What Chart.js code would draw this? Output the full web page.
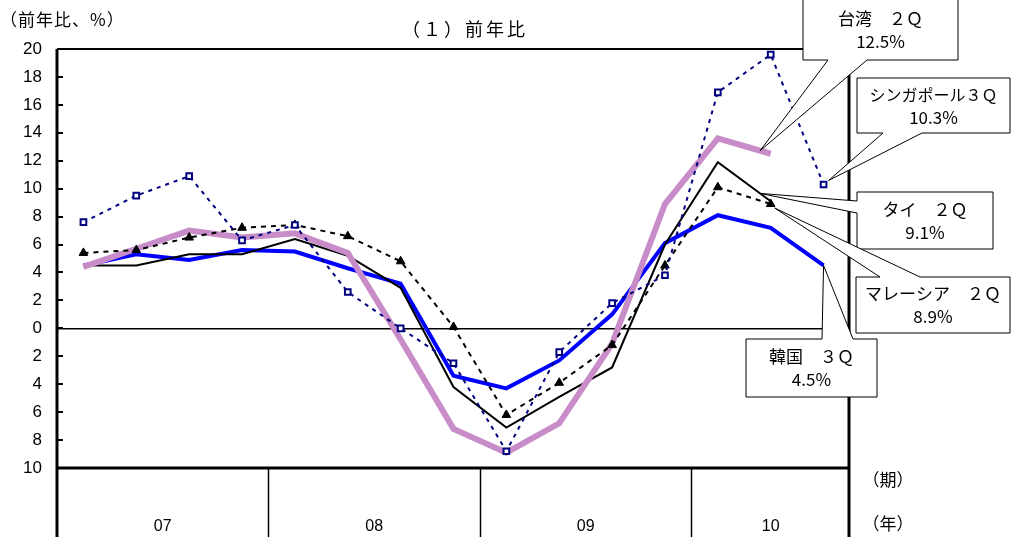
<!DOCTYPE html>
<html><head><meta charset="utf-8">
<script src="https://cdn.jsdelivr.net/npm/chart.js@4"></script>
<style>html,body{margin:0;padding:0;background:#fff}</style>
</head><body>
<canvas id="c" width="1011" height="537" style="display:block;width:1011px;height:537px"></canvas>
<script>
const quarters = ['07Q1','07Q2','07Q3','07Q4','08Q1','08Q2','08Q3','08Q4','09Q1','09Q2','09Q3','09Q4','10Q1','10Q2','10Q3'];
const years = ['07','08','09','10'];
const yearQuarterCounts = [4,4,4,3];
const taiwan    = [4.4,5.7,7.0,6.5,6.8,5.4,-0.8,-7.2,-8.9,-6.8,-1.1,8.9,13.6,12.5];
const singapore = [7.6,9.5,10.9,6.3,7.4,2.6,0.0,-2.5,-8.8,-1.7,1.8,3.8,16.9,19.6,10.3];
const thailand  = [4.5,4.5,5.3,5.3,6.4,5.2,2.9,-4.2,-7.1,-4.9,-2.8,6.0,11.9,9.1];
const malaysia  = [5.4,5.6,6.5,7.2,7.4,6.6,4.8,0.1,-6.2,-3.9,-1.2,4.5,10.1,8.9];
const korea     = [4.5,5.3,4.9,5.6,5.5,4.3,3.2,-3.4,-4.3,-2.3,1.0,6.1,8.1,7.2,4.5];
const seriesNames = ['シンガポール','マレーシア','台湾','タイ','韓国'];
const yMin = -10, yMax = 20, yStep = 2;

const CJK = '"Noto Sans CJK JP", "Liberation Sans", sans-serif';
const LAT = '"Liberation Sans", Arial, sans-serif';

// callouts: dataset index, tip between point indices (from -> to, fraction t)
const callouts = [
  {lines:['台湾　２Ｑ','12.5%'], box:{x:803,y:-1,w:155,h:61}, edge:'bottom', base:[828,867], ds:2, from:12, to:13, t:0.8},
  {lines:['シンガポール３Ｑ','10.3%'], size:16, box:{x:857,y:78,w:153,h:55}, edge:'bottom', base:[883,922], ds:0, from:14, to:14, t:0, dx:5, dy:-4},
  {lines:['タイ　２Ｑ','9.1%'], box:{x:857,y:192,w:136,h:57}, edge:'left', base:[201,213], ds:3, from:12, to:13, t:0.8},
  {lines:['マレーシア　２Ｑ','8.9%'], box:{x:856,y:277,w:154,h:56}, edge:'top', base:[880,920], ds:1, from:13, to:13, t:0, dx:4, dy:4},
  {lines:['韓国　３Ｑ','4.5%'], box:{x:746,y:339,w:131,h:58}, edge:'top', base:[822,853], ds:4, from:14, to:14, t:0}
];

function calloutPath(ctx, b, edge, base, tip){
  const L=b.x, T=b.y, R=b.x+b.w, B=b.y+b.h;
  ctx.beginPath(); ctx.moveTo(L,T);
  if(edge==='top'){ ctx.lineTo(base[0],T); ctx.lineTo(tip.x,tip.y); ctx.lineTo(base[1],T); }
  ctx.lineTo(R,T); ctx.lineTo(R,B);
  if(edge==='bottom'){ ctx.lineTo(base[1],B); ctx.lineTo(tip.x,tip.y); ctx.lineTo(base[0],B); }
  ctx.lineTo(L,B);
  if(edge==='left'){ ctx.lineTo(L,base[1]); ctx.lineTo(tip.x,tip.y); ctx.lineTo(L,base[0]); }
  ctx.closePath();
}

const decor = {
  id:'decor',
  afterDatasetsDraw(chart){
    const ctx = chart.ctx, a = chart.chartArea, xs = chart.scales.x, ys = chart.scales.y;
    ctx.save();
    // inner ticks on y axis
    ctx.strokeStyle='#000'; ctx.lineWidth=2;
    for(let v=yMin; v<=yMax; v+=yStep){
      const y = Math.round(ys.getPixelForValue(v));
      ctx.beginPath(); ctx.moveTo(a.left, y); ctx.lineTo(a.left+6, y); ctx.stroke();
    }
    // frame
    ctx.lineWidth=2; ctx.beginPath(); ctx.moveTo(a.left, a.top); ctx.lineTo(a.right, a.top); ctx.stroke();
    ctx.lineWidth=3;
    ctx.beginPath(); ctx.moveTo(a.left, a.top); ctx.lineTo(a.left, 537); ctx.stroke();
    ctx.beginPath(); ctx.moveTo(a.right-1, a.top); ctx.lineTo(a.right-1, 537); ctx.stroke();
    ctx.beginPath(); ctx.moveTo(a.left, a.bottom); ctx.lineTo(a.right, a.bottom); ctx.stroke();
    // year separators and labels
    ctx.lineWidth=1.5;
    let idx=0;
    ctx.fillStyle='#000'; ctx.font='16px '+LAT; ctx.textAlign='center'; ctx.textBaseline='middle';
    years.forEach((yr,i)=>{
      const first = xs.getPixelForValue(idx), last = xs.getPixelForValue(idx+yearQuarterCounts[i]-1);
      const half = (xs.getPixelForValue(1)-xs.getPixelForValue(0))/2;
      const l = first-half, r = last+half;
      if(i>0){ ctx.beginPath(); ctx.moveTo(Math.round(l)+0.5, a.bottom); ctx.lineTo(Math.round(l)+0.5, 537); ctx.stroke(); }
      ctx.fillText(yr, (l+r)/2, 527);
      idx += yearQuarterCounts[i];
    });
    ctx.font='17px '+CJK;
    ctx.fillText('（期）', 888, 480);
    ctx.fillText('（年）', 888, 524);
    // titles
    ctx.font='18px '+CJK;
    ctx.letterSpacing='3px';
    ctx.fillText('（１）前年比', 465, 29);
    ctx.textAlign='left';
    ctx.font='17px '+CJK;
    ctx.letterSpacing='1px';
    ctx.fillText('（前年比、%）', 0, 20);
    ctx.letterSpacing='0px';
    // callouts
    callouts.forEach(c=>{
      const pts = chart.getDatasetMeta(c.ds).data;
      const p0 = pts[c.from], p1 = pts[c.to];
      const tip = {x: p0.x+(p1.x-p0.x)*c.t+(c.dx||0), y: p0.y+(p1.y-p0.y)*c.t+(c.dy||0)};
      calloutPath(ctx, c.box, c.edge, c.base, tip);
      ctx.fillStyle='#fff'; ctx.fill();
      ctx.strokeStyle='#000'; ctx.lineWidth=1; ctx.stroke();
      ctx.fillStyle='#000'; ctx.textAlign='center'; ctx.textBaseline='middle';
      const cx = c.box.x + c.box.w/2, cy = c.box.y + c.box.h/2;
      ctx.font=(c.size||17)+'px '+CJK;
      ctx.fillText(c.lines[0], cx, cy-11);
      ctx.font='17px '+CJK;
      ctx.fillText(c.lines[1], cx, cy+12);
    });
    ctx.restore();
  }
};

new Chart(document.getElementById('c'), {
  type:'line',
  data:{
    labels: quarters,
    datasets:[
      {label:seriesNames[0], data:singapore, borderColor:'#000080', borderWidth:2, borderDash:[4,5], pointStyle:'rect', pointRadius:4, pointBorderWidth:2, pointBorderColor:'#000080', pointBackgroundColor:'#fff', tension:0},
      {label:seriesNames[1], data:malaysia, borderColor:'#000', borderWidth:2, borderDash:[5,5], pointStyle:'triangle', pointRadius:5, pointBorderWidth:1, pointBorderColor:'#000', pointBackgroundColor:'#000', tension:0},
      {label:seriesNames[2], data:taiwan, borderColor:'#c88cc8', borderWidth:6, pointRadius:0, tension:0},
      {label:seriesNames[3], data:thailand, borderColor:'#000', borderWidth:2, pointRadius:0, tension:0},
      {label:seriesNames[4], data:korea, borderColor:'#0000ff', borderWidth:4, pointRadius:0, tension:0}
    ]
  },
  options:{
    responsive:false, animation:false, devicePixelRatio:1,
    layout:{padding:{top:49, right:161, left:0, bottom:0}},
    plugins:{legend:{display:false}, tooltip:{enabled:false}, title:{display:false}},
    scales:{
      x:{type:'category', offset:true, grid:{display:false, drawTicks:false}, border:{display:false},
         ticks:{display:false}, afterFit:s=>{s.height=69;}},
      y:{min:yMin, max:yMax, border:{display:false},
         grid:{drawTicks:false, color:c=>c.tick && c.tick.value===0 ? '#000' : 'rgba(0,0,0,0)', lineWidth:1.5},
         ticks:{stepSize:yStep, padding:15, color:'#000', font:{family:LAT, size:17}, callback:v=>String(Math.abs(v))},
         afterFit:s=>{s.width=57;}}
    }
  },
  plugins:[decor]
});
</script>
</body></html>
